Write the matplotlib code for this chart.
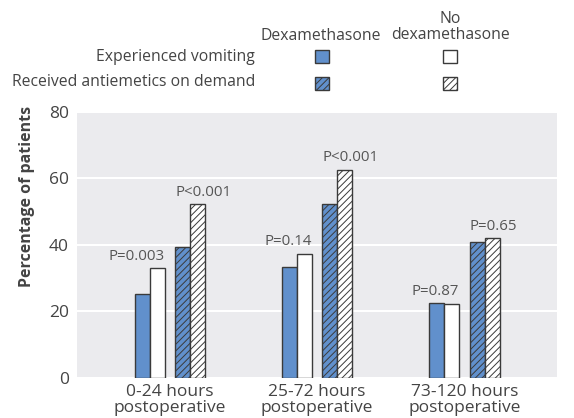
import numpy as np
import matplotlib
matplotlib.use("Agg")
import matplotlib.pyplot as plt
from matplotlib.patches import Rectangle

# data
periods = ["0-24 hours\npostoperative", "25-72 hours\npostoperative", "73-120 hours\npostoperative"]
vomit_dexa = [25.3, 33.4, 22.4]
vomit_nodexa = [33.0, 37.4, 22.2]
antiem_dexa = [39.3, 52.2, 40.8]
antiem_nodexa = [52.2, 62.6, 42.1]
p_vomit = ["P=0.003", "P=0.14", "P=0.87"]
p_antiem = ["P<0.001", "P<0.001", "P=0.65"]
y_ticks = [0, 20, 40, 60, 80]

BLUE = "#6190cc"
EDGE = "#3a3a3a"
TEXT = "#444444"
BG = "#ebebee"

plt.rcParams['font.family'] = ['Open Sans', 'DejaVu Sans']
plt.rcParams['hatch.linewidth'] = 0.7
plt.rcParams['hatch.color'] = EDGE

fig = plt.figure(figsize=(5.74, 4.18), dpi=100)
ax = fig.add_axes([77 / 574, 40 / 418, 480 / 574, 266.3 / 418])
ax.set_facecolor(BG)

x = np.arange(len(periods))
w = 0.102
off = [-0.188, -0.086, 0.088, 0.19]
bar_kw = dict(width=w, edgecolor=EDGE, linewidth=1.0, zorder=3)
ax.bar(x + off[0], vomit_dexa, color=BLUE, **bar_kw)
ax.bar(x + off[1], vomit_nodexa, color="white", **bar_kw)
ax.bar(x + off[2], antiem_dexa, color=BLUE, hatch="/////", **bar_kw)
ax.bar(x + off[3], antiem_nodexa, color="white", hatch="/////", **bar_kw)

# p values above each pair
for i in range(len(periods)):
    top = max(vomit_dexa[i], vomit_nodexa[i])
    ax.annotate(p_vomit[i], (x[i] + off[1] + w / 2, top), xytext=(0, 3),
                textcoords="offset points", ha="right", va="bottom",
                fontsize=10.8, color="#555555")
    top = max(antiem_dexa[i], antiem_nodexa[i])
    ax.annotate(p_antiem[i], (x[i] + off[2] - w / 2, top), xytext=(0, 3),
                textcoords="offset points", ha="left", va="bottom",
                fontsize=10.8, color="#555555")

ax.set_xlim(-0.63, 2.63)
ax.set_ylim(0, 80)
ax.set_yticks(y_ticks)
ax.set_xticks(x)
ax.set_xticklabels(periods, linespacing=1.0)
ax.tick_params(length=0, labelsize=12.5, colors=TEXT)
ax.tick_params(axis="x", pad=4)
ax.tick_params(axis="y", pad=6)
ax.grid(axis="y", color="white", linewidth=1.5, zorder=1)
for s in ax.spines.values():
    s.set_visible(False)

fig.text(26.7 / 574, 1 - 196 / 418, "Percentage of patients", rotation=90,
         ha="center", va="center", fontsize=11.5, fontweight="bold", color=TEXT)

# legend built by hand
H = 418
fs = 11.3
fig.text(321 / 574, 1 - 36 / H, "Dexamethasone", ha="center", va="center", fontsize=fs, color=TEXT)
fig.text(450 / 574, 1 - 27 / H, "No\ndexamethasone", ha="center", va="center",
         fontsize=fs, color=TEXT, linespacing=1.05)
fig.text(255 / 574, 1 - 57 / H, "Experienced vomiting", ha="right", va="center", fontsize=fs, color=TEXT)
fig.text(255 / 574, 1 - 82 / H, "Received antiemetics on demand", ha="right", va="center",
         fontsize=fs, color=TEXT)
rows = [(56, None), (83, "/////")]
cols = [(322, BLUE), (450, "white")]
for yc, hatch in rows:
    for xc, col in cols:
        fig.patches.append(Rectangle(((xc - 7) / 574, 1 - (yc + 6.5) / H), 14 / 574, 13 / H,
                                     facecolor=col, edgecolor=EDGE, linewidth=1.0, hatch=hatch,
                                     transform=fig.transFigure, figure=fig))

fig.savefig("out.png", dpi=100)
